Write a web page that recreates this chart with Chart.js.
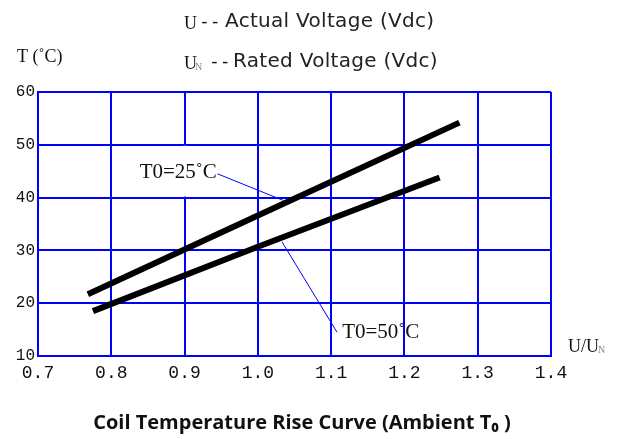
<!DOCTYPE html>
<html>
<head>
<meta charset="utf-8">
<script src="https://cdn.jsdelivr.net/npm/chart.js@4.4.1/dist/chart.umd.min.js"></script>
<style>
  html, body { margin: 0; padding: 0; background: #fff; }
  #wrap { width: 619px; height: 439px; }
</style>
</head>
<body>
<div id="wrap"><canvas id="chart" width="619" height="439"></canvas></div>
<script>
// значения
const xTicks = [0.7, 0.8, 0.9, 1.0, 1.1, 1.2, 1.3, 1.4];
const yTicks = [10, 20, 30, 40, 50, 60];

// T0=25°C
const upperX = [0.768, 1.0, 1.275];
const upperY = [21.7, 36.6, 54.2];
// T0=50°C
const lowerX = [0.775, 1.0, 1.248];
const lowerY = [18.5, 30.7, 43.8];

// выноски к подписям
const lead25X = [0.945, 1.034];
const lead25Y = [44.5, 39.5];
const lead50X = [1.033, 1.108];
const lead50Y = [31.6, 14.5];

const labelNames = ["T0=25\u02DAC", "T0=50\u02DAC"];
const labelX = [0.944, 1.115];
const labelY = [44.8, 14.4];

const BLUE = "#0000ff";

function pts(xs, ys) {
    return xs.map((x, i) => ({ x: x, y: ys[i] }));
}

// рисуем подписи, заголовок и прочий текст
const textPlugin = {
    id: "texts",
    beforeDatasetsDraw(chart) {
        // в ячейке 0.9 / 40-50 вертикальной линии нет
        const ctx = chart.ctx;
        const xs = chart.scales.x, ys = chart.scales.y;
        const px = xs.getPixelForValue(0.9);
        ctx.save();
        ctx.fillStyle = "#fff";
        ctx.fillRect(px - 2, ys.getPixelForValue(50) + 1, 4, ys.getPixelForValue(40) - ys.getPixelForValue(50) - 2);
        ctx.restore();
    },
    afterDraw(chart) {
        const ctx = chart.ctx;
        const xs = chart.scales.x, ys = chart.scales.y;
        ctx.save();
        ctx.textBaseline = "middle";

        // подписи кривых
        ctx.fillStyle = "#111";
        ctx.font = "21px 'Liberation Serif'";
        ctx.textAlign = "right";
        ctx.fillText(labelNames[0], xs.getPixelForValue(labelX[0]), ys.getPixelForValue(labelY[0]));
        ctx.textAlign = "left";
        ctx.fillText(labelNames[1], xs.getPixelForValue(labelX[1]), ys.getPixelForValue(labelY[1]));

        // единицы осей
        ctx.font = "18px 'Liberation Serif'";
        ctx.fillText("T (\u02DAC)", 17, 57);
        ctx.fillText("U/U", 568, 347);
        let w = ctx.measureText("U/U").width;
        ctx.font = "10px 'Liberation Serif'";
        ctx.fillStyle = "#888";
        ctx.fillText("N", 568 + w - 1, 350);

        // легенда обозначений сверху
        ctx.fillStyle = "#111";
        ctx.font = "18px 'Liberation Serif'";
        ctx.fillText("U", 184, 24);
        ctx.fillText("U", 184, 64);
        w = ctx.measureText("U").width;
        ctx.font = "10px 'Liberation Serif'";
        ctx.fillStyle = "#888";
        ctx.fillText("N", 184 + w - 2, 67);
        ctx.fillStyle = "#111";
        ctx.font = "18px 'DejaVu Sans Mono'";
        ctx.fillText("--", 199, 22);
        ctx.fillText("--", 209, 62);

        ctx.fillStyle = "#222";
        ctx.font = "20px 'DejaVu Sans'";
        ctx.letterSpacing = "0.3px";
        ctx.fillText("Actual Voltage (Vdc)", 225, 22);
        ctx.fillText("Rated Voltage (Vdc)", 233, 62);
        ctx.letterSpacing = "0px";

        // заголовок снизу
        ctx.font = "bold 20px 'Open Sans'";
        ctx.textAlign = "center";
        ctx.fillStyle = "#111";
        ctx.fillText("Coil Temperature Rise Curve (Ambient T\u2080 )", 302, 423);
        ctx.restore();
    }
};

const thick = { borderColor: "#000", borderWidth: 6, pointRadius: 0, showLine: true, fill: false, borderCapStyle: "butt" };
const thin = { borderColor: BLUE, borderWidth: 1, pointRadius: 0, showLine: true, fill: false };

new Chart(document.getElementById("chart"), {
    type: "scatter",
    data: {
        datasets: [
            Object.assign({ label: "T0=25", data: pts(upperX, upperY) }, thick),
            Object.assign({ label: "T0=50", data: pts(lowerX, lowerY) }, thick),
            Object.assign({ label: "lead25", data: pts(lead25X, lead25Y) }, thin),
            Object.assign({ label: "lead50", data: pts(lead50X, lead50Y) }, thin)
        ]
    },
    options: {
        responsive: false,
        animation: false,
        events: [],
        layout: { padding: { top: 92, right: 68, left: 0, bottom: 0 } },
        plugins: { legend: { display: false }, tooltip: { enabled: false }, title: { display: false } },
        scales: {
            x: {
                type: "linear",
                min: xTicks[0],
                max: xTicks[xTicks.length - 1],
                afterBuildTicks: (s) => { s.ticks = xTicks.map(v => ({ value: v })); },
                afterFit: (s) => { s.height = 83; },
                grid: { color: BLUE, lineWidth: 2, drawTicks: false },
                border: { color: BLUE, width: 2 },
                ticks: {
                    padding: 6,
                    color: "#111",
                    font: { family: "'Liberation Mono'", size: 18 },
                    callback: (v) => Number(v).toFixed(1)
                }
            },
            y: {
                type: "linear",
                min: yTicks[0],
                max: yTicks[yTicks.length - 1],
                afterBuildTicks: (s) => { s.ticks = yTicks.map(v => ({ value: v })); },
                afterFit: (s) => { s.width = 38; },
                grid: { color: BLUE, lineWidth: 2, drawTicks: false },
                border: { color: BLUE, width: 2 },
                ticks: {
                    padding: 3,
                    color: "#111",
                    font: { family: "'Liberation Mono'", size: 16 }
                }
            }
        }
    },
    plugins: [textPlugin]
});
</script>
</body>
</html>
